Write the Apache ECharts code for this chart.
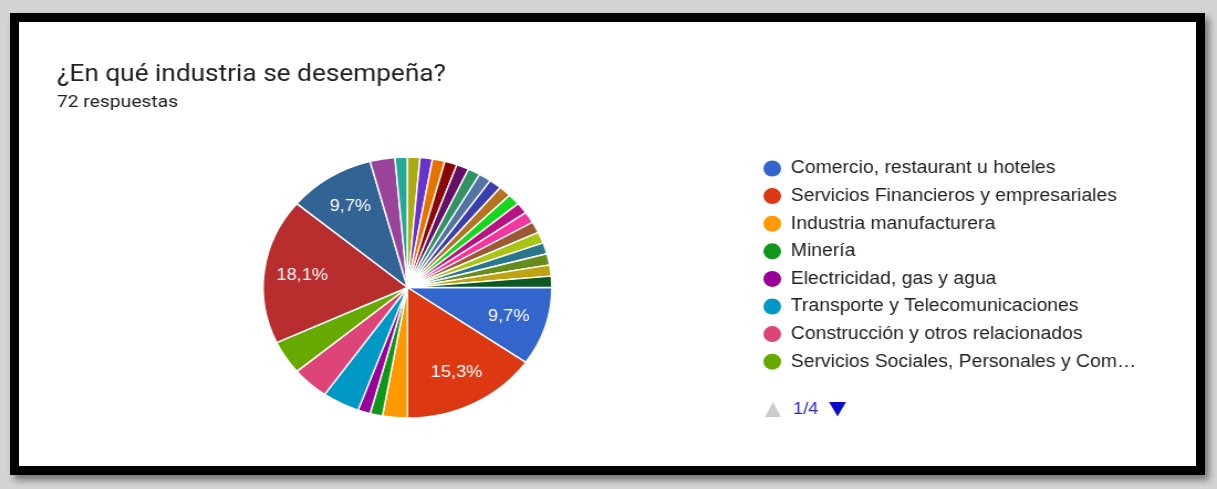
<!DOCTYPE html>
<html lang="es">
<head>
<meta charset="utf-8">
<title>¿En qué industria se desempeña?</title>
<script src="https://cdn.jsdelivr.net/npm/echarts@6/dist/echarts.min.js"></script>
<style>
  html, body { margin: 0; padding: 0; width: 1217px; height: 489px; overflow: hidden; background: #d4d4d4; }
  #frame {
    position: absolute; left: 10px; top: 13px; width: 1177px; height: 444px;
    border: 9px solid #000; background: #fff;
    box-shadow: 4px 5px 7px rgba(0,0,0,0.45);
  }
  #chart {
    position: absolute; left: 0; top: 0; width: 1100px; height: 489px;
    transform: scaleX(1.106364); transform-origin: 0 0;
  }
</style>
</head>
<body>
<div id="frame"></div>
<div id="chart"></div>
<script>
// Survey answers: "¿En qué industria se desempeña?" (72 respuestas)
const categories = [
  'Comercio, restaurant u hoteles',
  'Servicios Financieros y empresariales',
  'Industria manufacturera',
  'Minería',
  'Electricidad, gas y agua',
  'Transporte y Telecomunicaciones',
  'Construcción y otros relacionados',
  'Servicios Sociales, Personales y Comunales',
  'Educación',
  'Salud',
  'Sector público',
  'Agricultura',
  'Pesca',
  'Tecnología',
  'Retail',
  'Turismo',
  'Seguros',
  'Inmobiliaria',
  'Logística',
  'Consultoría',
  'Medios de comunicación',
  'Forestal',
  'Automotriz',
  'Alimentos',
  'Energías renovables',
  'Farmacéutica',
  'Defensa',
  'ONG',
  'Investigación',
  'Arte y cultura'
];
const counts = [7, 11, 2, 1, 1, 3, 3, 3, 13, 7, 2,
  1, 1, 1, 1, 1, 1, 1, 1, 1, 1, 1, 1, 1, 1, 1, 1, 1, 1, 1];
const palette = [
  '#3366cc', '#dc3912', '#ff9900', '#109618', '#990099', '#0099c6', '#dd4477', '#66aa00',
  '#b82e2e', '#316395', '#994499', '#22aa99', '#aaaa11', '#6633cc', '#e67300', '#8b0707',
  '#651067', '#329262', '#5574a6', '#3b3eac', '#b77322', '#16d620', '#b91383', '#f4359e',
  '#9c5935', '#a9c413', '#2a778d', '#668d1c', '#bea413', '#0c5922'
];
const titleText = '¿En qué industria se desempeña?';
const subText = '72 respuestas';
const pageText = '1/4';
const legendPageSize = 8;

const pieData = categories.map((name, i) => ({ name, value: counts[i] }));
const fmtPct = p => p.percent.toFixed(1).replace('.', ',') + '%';

const chart = echarts.init(document.getElementById('chart'), null, { renderer: 'canvas' });
chart.setOption({
  animation: false,
  color: palette,
  title: {
    text: titleText,
    subtext: subText,
    left: 51.5,
    top: 61,
    padding: 0,
    itemGap: 4,
    textStyle: { fontFamily: 'Roboto', fontWeight: 'normal', fontSize: 23.7, lineHeight: 28, color: '#202124' },
    subtextStyle: { fontFamily: 'Roboto', fontSize: 17.4, lineHeight: 20, color: '#202124' }
  },
  legend: {
    orient: 'vertical',
    left: 690,
    top: 158.5,
    padding: 0,
    icon: 'circle',
    itemWidth: 23.6,
    itemHeight: 16,
    itemGap: 7.6,
    selectedMode: false,
    itemStyle: { borderWidth: 0 },
    data: categories.slice(0, legendPageSize),
    textStyle: {
      fontFamily: 'Liberation Sans, Arial, sans-serif',
      fontSize: 17.5,
      lineHeight: 20,
      color: '#212121',
      width: 316,
      overflow: 'truncate',
      ellipsis: '…'
    }
  },
  graphic: [
    { type: 'polygon', shape: { points: [[691.5, 417], [698.7, 402], [705.9, 417]] }, style: { fill: '#cccccc' } },
    { type: 'text', x: 716.8, y: 409.5, style: { text: pageText, fontFamily: 'Liberation Sans, Arial, sans-serif', fontSize: 16.5, fill: '#2a2ac8', verticalAlign: 'middle' } },
    { type: 'polygon', shape: { points: [[749.3, 402], [764.7, 402], [757, 416.5]] }, style: { fill: '#0b0bcc' } }
  ],
  series: [
    {
      type: 'pie',
      center: [368.3, 287.5],
      radius: [0, 130.5],
      startAngle: 0,
      clockwise: true,
      avoidLabelOverlap: false,
      itemStyle: { borderColor: '#ffffff', borderWidth: 1.4 },
      label: { show: false },
      labelLine: { show: false },
      emphasis: { disabled: true },
      data: pieData
    },
    {
      // label carrier: same slices, wider radius so the inside labels sit at ~0.7 of the pie radius
      type: 'pie',
      silent: true,
      center: [368.3, 287.5],
      radius: [0, 186],
      startAngle: 0,
      clockwise: true,
      avoidLabelOverlap: false,
      itemStyle: { color: 'rgba(0,0,0,0)', borderWidth: 0 },
      label: {
        show: true,
        position: 'inside',
        formatter: p => (p.percent > 5 ? fmtPct(p) : ''),
        color: '#ffffff',
        fontFamily: 'Liberation Sans, Arial, sans-serif',
        fontSize: 16.5
      },
      labelLine: { show: false },
      emphasis: { disabled: true },
      data: pieData
    }
  ]
});
</script>
</body>
</html>
